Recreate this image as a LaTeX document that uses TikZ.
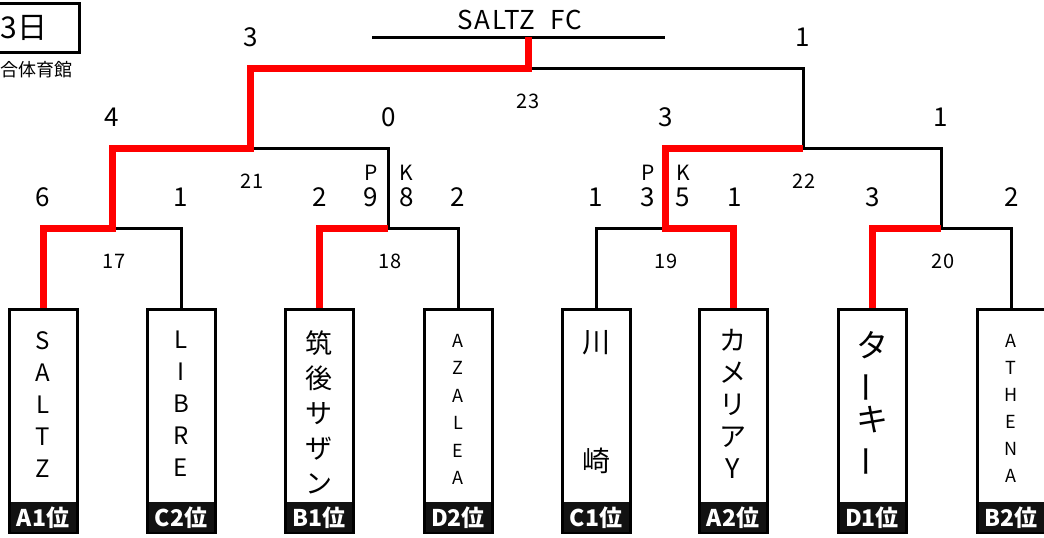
\documentclass[tikz,border=0pt]{standalone}
\usepackage{fontspec}
\usepackage{graphicx}
\setmainfont{Noto Sans CJK JP}
\usetikzlibrary{positioning}
\newcommand{\vbar}{\rotatebox[origin=c]{90}{ー}}

\begin{document}
\begin{tikzpicture}[x=1pt, y=-1pt,
  team/.style={draw, line width=3pt, minimum width=68pt, minimum height=223pt, inner sep=0pt},
  rank/.style={fill=black!93, text=white, font=\fontsize{23}{23}\selectfont\bfseries,
    minimum width=65pt, minimum height=30pt, inner sep=0pt},
  teamname/.style={align=center, inner sep=0pt, anchor=north},
  bline/.style={line width=3pt},
  win/.style={red, line width=7pt},
  score/.style={font=\fontsize{26}{26}\selectfont, inner sep=0pt},
  pk/.style={font=\fontsize{21}{21}\selectfont, inner sep=0pt},
  game/.style={font=\fontsize{20}{20}\selectfont, inner sep=0pt}]
\useasboundingbox (0,0) rectangle (1044,538);

% day box
\node[draw, line width=3pt, minimum width=82pt, minimum height=49pt, inner sep=0pt] (day) at (38,28) {};
\node[font=\fontsize{30}{30}\selectfont, inner sep=0pt] (daytxt) at (24,28) {3日};
\node[font=\fontsize{18}{18}\selectfont, inner sep=0pt] (hall) at (37,70) {合体育館};

% teams
\node[team] (t1) at (43,421) {};
\node[team] (t2) at (181,421) {};
\node[team] (t3) at (319,421) {};
\node[team] (t4) at (458,421) {};
\node[team] (t5) at (596,421) {};
\node[team] (t6) at (733,421) {};
\node[team] (t7) at (872,421) {};
\node[team] (t8) at (1011,421) {};

\node[rank, above=1.5pt of t1.south] (r1) {A1位};
\node[rank, above=1.5pt of t2.south] (r2) {C2位};
\node[rank, above=1.5pt of t3.south] (r3) {B1位};
\node[rank, above=1.5pt of t4.south] (r4) {D2位};
\node[rank, above=1.5pt of t5.south] (r5) {C1位};
\node[rank, above=1.5pt of t6.south] (r6) {A2位};
\node[rank, above=1.5pt of t7.south] (r7) {D1位};
\node[rank, above=1.5pt of t8.south] (r8) {B2位};

\node[teamname, font=\fontsize{24}{32}\selectfont, below=23pt of t1.north] (n1) {S\\A\\L\\T\\Z};
\node[teamname, font=\fontsize{24}{32}\selectfont, below=23pt of t2.north] (n2) {L\\I\\B\\R\\E};
\node[teamname, font=\fontsize{27}{35}\selectfont, below=22pt of t3.north] (n3) {筑\\後\\サ\\ザ\\ン};
\node[teamname, font=\fontsize{18}{27.5}\selectfont, below=26pt of t4.north] (n4) {A\\Z\\A\\L\\E\\A};
\node[teamname, font=\fontsize{28}{35}\selectfont, below=22pt of t5.north] (n5) {川\\[84pt]崎};
\node[teamname, font=\fontsize{27}{32}\selectfont, below=21pt of t6.north] (n6) {カ\\メ\\リ\\ア\\Y};
\node[teamname, font=\fontsize{32}{37}\selectfont, below=23pt of t7.north] (n7) {タ\\\vbar\\キ\\\vbar};
\node[teamname, font=\fontsize{18}{27}\selectfont, below=26pt of t8.north] (n8) {A\\T\\H\\E\\N\\A};

% bracket points
\coordinate (m17) at (112,228);
\coordinate (m18) at (388,228);
\coordinate (m19) at (665,228);
\coordinate (m20) at (941,228);
\coordinate (m21) at (250,148);
\coordinate (m22) at (803,148);
\coordinate (m23) at (528,68);
\coordinate (champ) at (528,37);
\coordinate (tl) at (372,37);
\coordinate (tr) at (665,37);

\draw[bline] (t1.north) |- (m17) -| (t2.north);
\draw[bline] (t3.north) |- (m18) -| (t4.north);
\draw[bline] (t5.north) |- (m19) -| (t6.north);
\draw[bline] (t7.north) |- (m20) -| (t8.north);
\draw[bline] (m17) |- (m21) -| (m18);
\draw[bline] (m19) |- (m22) -| (m20);
\draw[bline] (m21) |- (m23) -| (m22);
\draw[bline] (tl) -- (tr);

% winners
\draw[win] (t1.north) |- (m17) |- (m21) |- (m23) -- (champ);
\draw[win] (t3.north) |- (m18);
\draw[win] (t6.north) |- (m19) |- (m22);
\draw[win] (t7.north) |- (m20);

\node[font=\fontsize{26}{26}\selectfont\addfontfeatures{LetterSpace=6}, inner sep=0pt] (title) at (520,20) {SALTZ\ \ FC};

% scores
\node[score] (s1) at (43,197) {6};
\node[score] (s2) at (181,197) {1};
\node[score] (s3) at (320,197) {2};
\node[score] (s3p) at (371,197) {9};
\node[score] (s4p) at (407,197) {8};
\node[score] (s4) at (458,197) {2};
\node[score] (s5) at (596,197) {1};
\node[score] (s5p) at (648,197) {3};
\node[score] (s6p) at (683,197) {5};
\node[score] (s6) at (735,197) {1};
\node[score] (s7) at (873,197) {3};
\node[score] (s8) at (1012,197) {2};
\node[pk] (p18) at (371,173) {P};
\node[pk] (k18) at (406,173) {K};
\node[pk] (p19) at (648,173) {P};
\node[pk] (k19) at (683,173) {K};
\node[score] (s17) at (112,117) {4};
\node[score] (s18) at (389,117) {0};
\node[score] (s19) at (666,117) {3};
\node[score] (s20) at (941,117) {1};
\node[score] (s21) at (251,37) {3};
\node[score] (s22) at (803,37) {1};

% game numbers
\node[game] (g17) at (114,261) {17};
\node[game] (g18) at (390,261) {18};
\node[game] (g19) at (666,261) {19};
\node[game] (g20) at (943,261) {20};
\node[game] (g21) at (252,181) {21};
\node[game] (g22) at (804,181) {22};
\node[game] (g23) at (528,101) {23};
\end{tikzpicture}
\end{document}
